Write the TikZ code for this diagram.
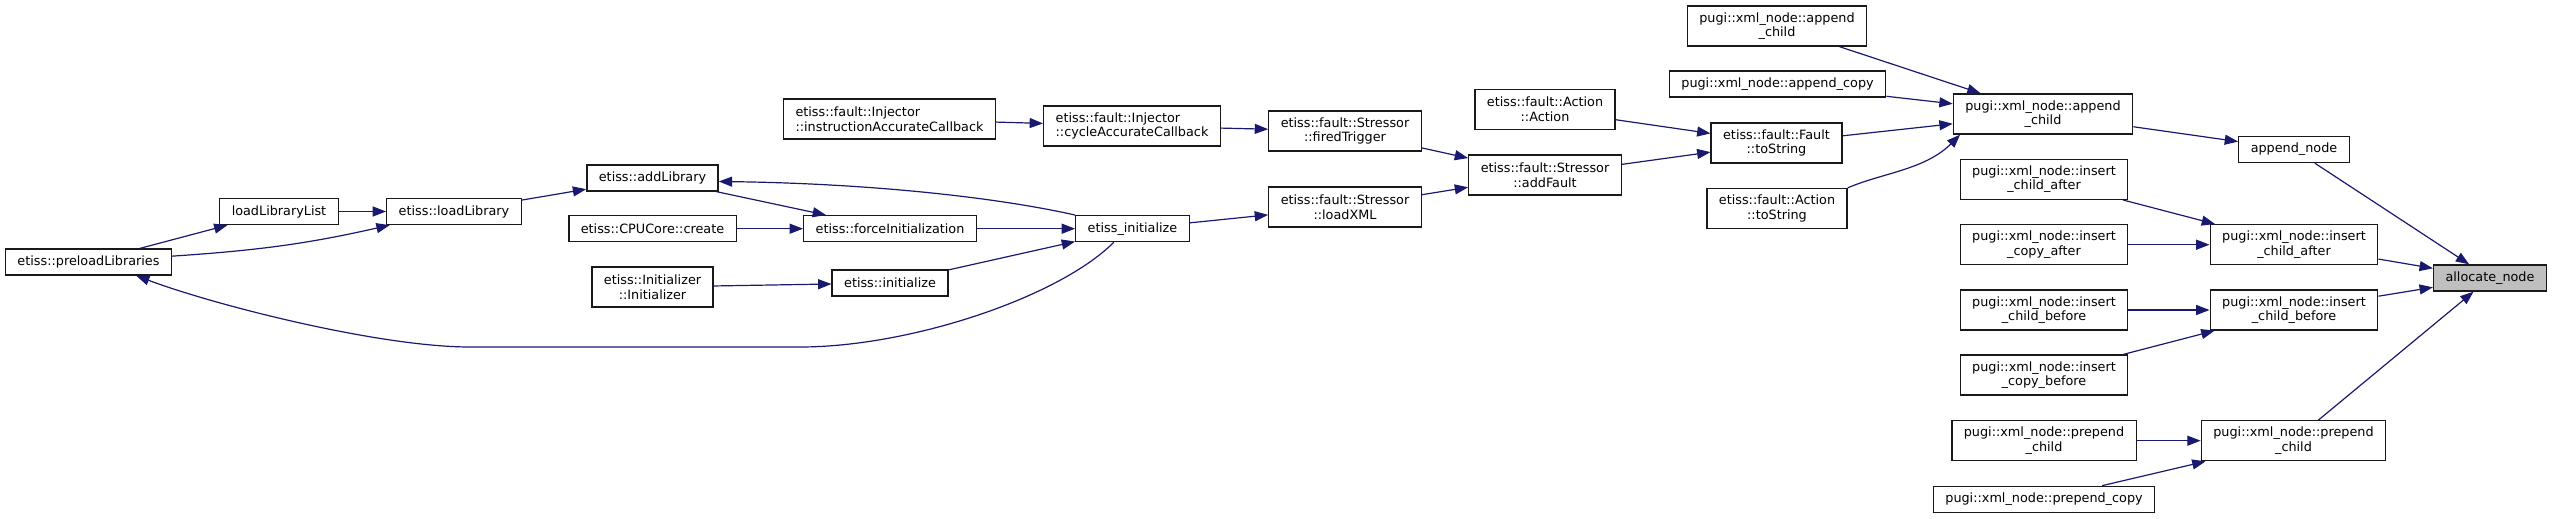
\documentclass[tikz,border=0pt]{standalone}
\usepackage{fontspec}
\usetikzlibrary{arrows.meta}
\newfontfamily\dxFont{DejaVu Sans}
\definecolor{dxEdge}{HTML}{191970}
\definecolor{dxHere}{HTML}{BFBFBF}
\newcommand{\dxLabel}{\dxFont\fontsize{9.6pt}{11pt}\selectfont}

\begin{document}
\begin{tikzpicture}[x=0.75pt,y=-0.75pt,
  fn/.style={draw=black!90, fill=white, line width=1pt, font=\dxLabel, inner xsep=9pt, inner ysep=0pt, minimum height=19.5pt},
  fntwo/.style={fn, align=center, minimum height=30pt},
  fnleft/.style={fn, align=left, minimum height=30pt},
  fnhere/.style={fn, fill=dxHere},
  call/.style={draw=dxEdge, line width=0.9pt, -{Triangle[length=10pt,width=7.5pt]}}]
\useasboundingbox (0,0) rectangle (2552,518);
\node[fn] (preload) at (88.5,262) {etiss::preloadLibraries};
\node[fn] (loadlist) at (279,211.5) {loadLibraryList};
\node[fn] (loadlib) at (454,211.5) {etiss::loadLibrary};
\node[fn] (addlib) at (652.5,178) {etiss::addLibrary};
\node[fn] (cpucreate) at (652.5,228.7) {etiss::CPUCore::create};
\node[fntwo] (initctor) at (652.5,287) {etiss::Initializer\\::Initializer};
\node[fn] (forceinit) at (890,228.7) {etiss::forceInitialization};
\node[fn] (initfn) at (890,283) {etiss::initialize};
\node[fnleft] (instrcb) at (889.5,119) {etiss::fault::Injector\\::instructionAccurateCallback};
\node[fnleft] (cyclecb) at (1132,126) {etiss::fault::Injector\\::cycleAccurateCallback};
\node[fn] (etissinit) at (1132.5,228.7) {etiss\_initialize};
\node[fntwo] (firedtrig) at (1345,131) {etiss::fault::Stressor\\::firedTrigger};
\node[fntwo] (loadxml) at (1345,207) {etiss::fault::Stressor\\::loadXML};
\node[fntwo] (addfault) at (1545,175) {etiss::fault::Stressor\\::addFault};
\node[fntwo] (actctor) at (1545,109.5) {etiss::fault::Action\\::Action};
\node[fntwo] (faultstr) at (1776.5,143) {etiss::fault::Fault\\::toString};
\node[fntwo] (actstr) at (1777,208.5) {etiss::fault::Action\\::toString};
\node[fntwo] (appchildtop) at (1777,26) {pugi::xml\_node::append\\\_child};
\node[fn] (appcopy) at (1777.5,84) {pugi::xml\_node::append\_copy};
\node[fntwo] (appchild) at (2043,114) {pugi::xml\_node::append\\\_child};
\node[fn] (appnode) at (2294,149.5) {append\_node};
\node[fntwo] (insafterl) at (2044,179.3) {pugi::xml\_node::insert\\\_child\_after};
\node[fntwo] (inscopyafter) at (2044,244.7) {pugi::xml\_node::insert\\\_copy\_after};
\node[fntwo] (insbeforel) at (2044,310) {pugi::xml\_node::insert\\\_child\_before};
\node[fntwo] (inscopybefore) at (2044,375) {pugi::xml\_node::insert\\\_copy\_before};
\node[fntwo] (prepl) at (2044,440.7) {pugi::xml\_node::prepend\\\_child};
\node[fn] (prepcopy) at (2044,499.3) {pugi::xml\_node::prepend\_copy};
\node[fntwo] (insafter) at (2294,244.7) {pugi::xml\_node::insert\\\_child\_after};
\node[fntwo] (insbefore) at (2294,310) {pugi::xml\_node::insert\\\_child\_before};
\node[fntwo] (prep) at (2293.5,440.7) {pugi::xml\_node::prepend\\\_child};
\node[fnhere] (alloc) at (2490,278) {allocate\_node};
\coordinate (bendr) at (800,347);
\coordinate (bendl) at (470,347);
\draw[call] (preload) -- (loadlist);
\draw[call] (loadlist) -- (loadlib);
\draw[call] (preload.4) .. controls +(90,-6) and +(-80,18) .. (loadlib.192);
\draw[call] (loadlib) -- (addlib);
\draw[call] (addlib) -- (forceinit);
\draw[call] (cpucreate) -- (forceinit);
\draw[call] (forceinit) -- (etissinit);
\draw[call] (etissinit.north west) .. controls +(-80,-18) and +(150,2) .. (addlib.357);
\draw[call] (initctor) -- (initfn);
\draw[call] (initfn) -- (etissinit);
\draw[call] (etissinit.216) .. controls +(-55,55) and +(110,0) .. (bendr) -- (bendl) .. controls +(-90,0) and +(80,30) .. (preload.-16);
\draw[call] (etissinit) -- (loadxml);
\draw[call] (instrcb) -- (cyclecb);
\draw[call] (cyclecb) -- (firedtrig);
\draw[call] (firedtrig) -- (addfault);
\draw[call] (loadxml) -- (addfault);
\draw[call] (addfault) -- (faultstr);
\draw[call] (actctor) -- (faultstr);
\draw[call] (faultstr) -- (appchild);
\draw[call] (actstr.north east) .. controls +(35,-15) and +(-35,35) .. (appchild.194);
\draw[call] (appchildtop) -- (appchild);
\draw[call] (appcopy) -- (appchild);
\draw[call] (appchild) -- (appnode);
\draw[call] (appnode) -- (alloc);
\draw[call] (insafterl) -- (insafter);
\draw[call] (inscopyafter) -- (insafter);
\draw[call] (insafter) -- (alloc);
\draw[call] (insbeforel) -- (insbefore);
\draw[call] (inscopybefore) -- (insbefore);
\draw[call] (insbefore) -- (alloc);
\draw[call] (prepl) -- (prep);
\draw[call] (prepcopy) -- (prep);
\draw[call] (prep) -- (alloc);
\end{tikzpicture}
\end{document}
